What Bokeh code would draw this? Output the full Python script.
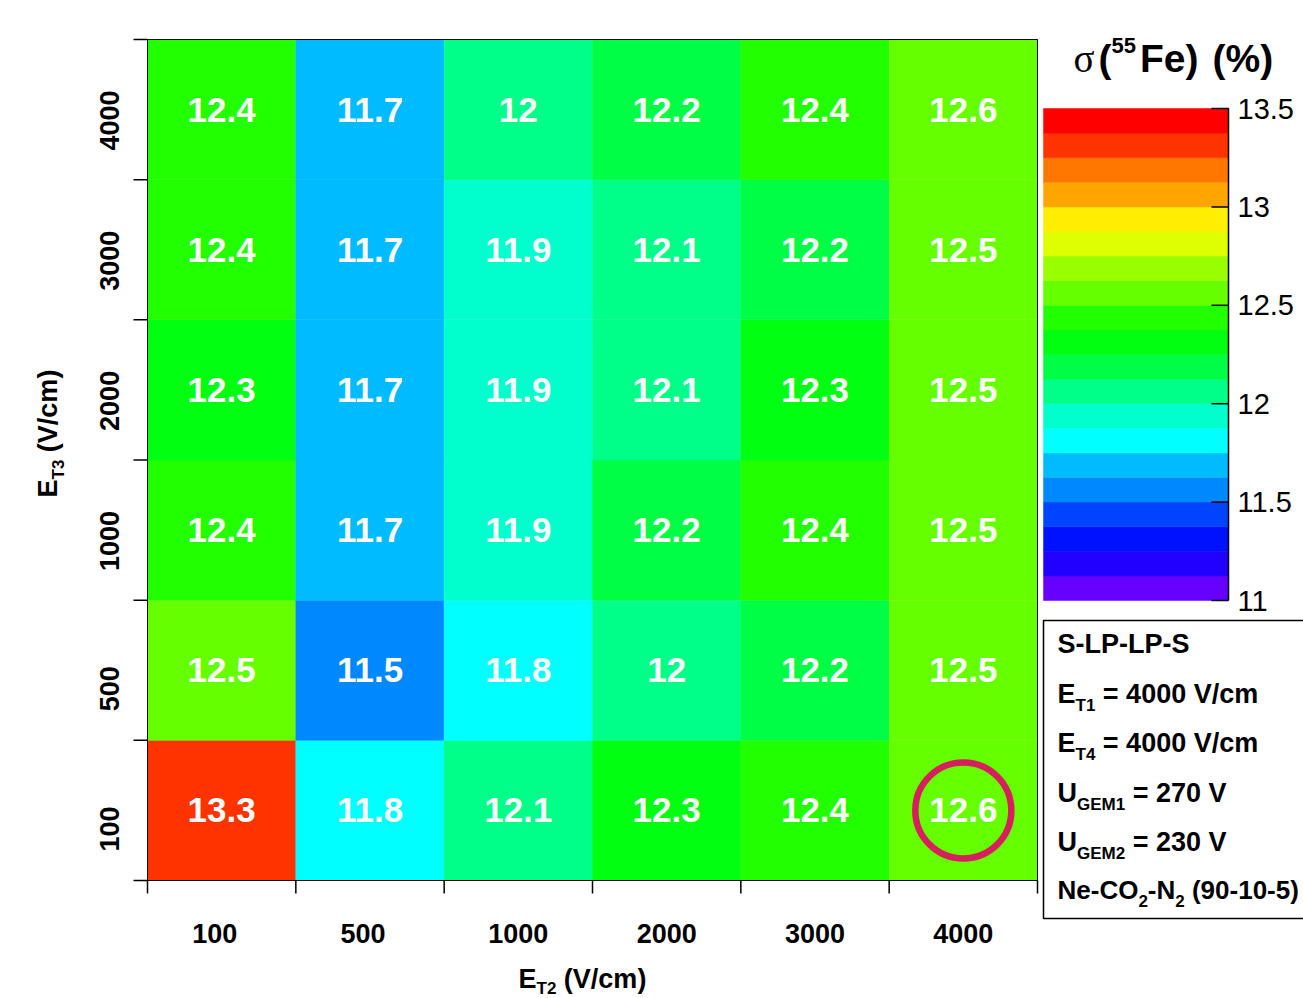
import math
import numpy as np
from bokeh.plotting import figure
from bokeh.models import Range1d
from bokeh.core.properties import value
from bokeh.embed import file_html
from bokeh.resources import INLINE

# ---------------- data ----------------
et2_labels = ["100", "500", "1000", "2000", "3000", "4000"]   # x categories (E_T2, V/cm)
et3_labels = ["100", "500", "1000", "2000", "3000", "4000"]   # y categories (E_T3, V/cm)
# energy resolution sigma(55Fe) in %, one list per E_T3 row, ordered by E_T2
sigma_et3_100 = [13.3, 11.8, 12.1, 12.3, 12.4, 12.6]
sigma_et3_500 = [12.5, 11.5, 11.8, 12.0, 12.2, 12.5]
sigma_et3_1000 = [12.4, 11.7, 11.9, 12.2, 12.4, 12.5]
sigma_et3_2000 = [12.3, 11.7, 11.9, 12.1, 12.3, 12.5]
sigma_et3_3000 = [12.4, 11.7, 11.9, 12.1, 12.2, 12.5]
sigma_et3_4000 = [12.4, 11.7, 12.0, 12.2, 12.4, 12.6]
z_min, z_max = 11.0, 13.5
z_ticks = [11, 11.5, 12, 12.5, 13, 13.5]
palette = ["#6600FF", "#2200FF", "#0011FF", "#0044FF", "#0088FF", "#00BBFF",
           "#00FFFF", "#00FFCC", "#00FF88", "#00FF44", "#00FF11", "#22FF00",
           "#66FF00", "#99FF00", "#DDFF00", "#FFEE00", "#FFA500", "#FF7700",
           "#FF3300", "#FF0000"]
highlight = ("4000", "100")  # (E_T2, E_T3) circled cell
legend_lines = [
    [("S-LP-LP-S", 0)],
    [("E", 0), ("T1", 1), (" = 4000 V/cm", 0)],
    [("E", 0), ("T4", 1), (" = 4000 V/cm", 0)],
    [("U", 0), ("GEM1", 1), (" = 270 V", 0)],
    [("U", 0), ("GEM2", 1), (" = 230 V", 0)],
    [("Ne-CO", 0), ("2", 1), ("-N", 0), ("2", 1), (" (90-10-5)", 0)],
]
x_title = [("E", 0), ("T2", 1), (" (V/cm)", 0)]
y_title = [("E", 0), ("T3", 1), (" (V/cm)", 0)]

rows = [sigma_et3_100, sigma_et3_500, sigma_et3_1000,
        sigma_et3_2000, sigma_et3_3000, sigma_et3_4000]

# ---------------- helpers ----------------
FONT = "Liberation Sans"
W = {' ': 278, '(': 333, ')': 333, '-': 333, '.': 278, '/': 278, '=': 584, '%': 889,
     'C': 722, 'E': 667, 'F': 611, 'G': 778, 'L': 611, 'M': 833, 'N': 722, 'O': 778,
     'P': 667, 'S': 667, 'T': 611, 'U': 722, 'V': 667, 'c': 556, 'e': 556, 'm': 889}


def tw(s, size):
    return sum(W.get(ch, 556) for ch in s) * size / 1000.0


def mid(base, size):
    # text is anchored at its middle: convert a wanted baseline to that anchor
    return base - 0.36 * size


def color_of(v):
    n = len(palette)
    k = int(math.floor((v - z_min) / (z_max - z_min) * n + 1e-9))
    return palette[max(0, min(n - 1, k))]


# ---------------- canvas / scales ----------------
WIDTH, HEIGHT = 1303, 998
FL, FR, FT, FB = 147, 1037, 39, 880          # heat-map frame in pixels
nx, ny = len(et2_labels), len(et3_labels)
ppx = (FR - FL) / nx
ppy = (FB - FT) / ny


def dx(px):
    return (px - FL) / ppx


def dy(py):
    return (FB - py) / ppy


p = figure(width=WIDTH, height=HEIGHT,
           x_range=Range1d(dx(0), dx(WIDTH)), y_range=Range1d(dy(HEIGHT), dy(0)),
           output_backend="svg", toolbar_location=None, min_border=0,
           x_axis_location=None, y_axis_location=None)
p.grid.visible = False
p.outline_line_color = None
p.background_fill_color = "white"
p.border_fill_color = "white"

# colour-scale range (pixel 108 <-> 13.5, pixel 600 <-> 11)
CB_L, CB_R, CB_T, CB_B = 1043, 1228, 108, 600
k = (CB_B - CB_T) / (z_max - z_min)
p.extra_x_ranges = {"sx": Range1d(0, WIDTH)}
p.extra_y_ranges = {"sy": Range1d(HEIGHT, 0),
                    "cb": Range1d(z_min - (HEIGHT - CB_B) / k, z_max + CB_T / k)}

# ---------------- heat map ----------------
lefts, bottoms, cols, xs, ys, txts = [], [], [], [], [], []
for j, vals in enumerate(rows):
    for i, v in enumerate(vals):
        lefts.append(i)
        bottoms.append(j)
        cols.append(color_of(v))
        xs.append(i + 0.5)
        ys.append(j + 0.5)
        txts.append(f"{v:g}")
p.quad(left=lefts, right=[l + 1 for l in lefts], bottom=bottoms, top=[b + 1 for b in bottoms],
       fill_color=cols, line_color=cols, line_width=0.5)
p.text(x=xs, y=ys, text=txts, text_color="white", text_font=value(FONT),
       text_font_style="bold", text_font_size="35px", text_align="center",
       text_baseline="middle")

hx = et2_labels.index(highlight[0]) + 0.5
hy = et3_labels.index(highlight[1]) + 0.5
p.scatter(x=[hx], y=[hy], marker="circle", size=96, fill_color=None,
          line_color="#D61F5C", line_width=6.5)

# frame
p.quad(left=0, right=nx, bottom=0, top=ny, fill_color=None, line_color="black",
       line_width=1)

# axis ticks at bin edges
xe = list(range(nx + 1))
ye = list(range(ny + 1))
p.segment(x0=xe, y0=0, x1=xe, y1=-13 / ppy, line_color="black", line_width=1.5)
p.segment(x0=0, y0=ye, x1=-14 / ppx, y1=ye, line_color="black", line_width=1.5)

# tick labels at bin centres (ROOT-like alignment)
xl = [i + 0.5 - (4 - len(l)) * 7 / ppx for i, l in enumerate(et2_labels)]
p.text(x=xl, y=dy(mid(943, 27)), text=et2_labels, text_font=value(FONT),
       text_font_style="bold", text_font_size="27px", text_color="black",
       text_align="center", text_baseline="middle")
yl = [j + 0.5 - 41 / ppy for j in range(ny)]
p.text(x=dx(mid(119, 27)), y=yl, text=et3_labels, angle=math.pi / 2,
       text_font=value(FONT), text_font_style="bold", text_font_size="27px",
       text_color="black", text_align="left", text_baseline="middle")


def chain_h(segs, x, base, main, sub, shift):
    for txt, s in segs:
        size = sub if s else main
        if txt.startswith(" "):
            x += tw(" ", size)
            txt = txt[1:]
        p.text(x=[x], y=[mid(base + shift * s, size)], text=[txt], text_font=value(FONT),
               text_font_style="bold", text_font_size=f"{size}px", text_color="black",
               text_align="left", text_baseline="middle",
               x_range_name="sx", y_range_name="sy")
        x += tw(txt, size)


# axis titles
chain_h(x_title, 518, 988, 27, 17, 6)
cy = 497
for txt, s in y_title:
    size = 17 if s else 27
    if txt.startswith(" "):
        cy -= tw(" ", size)
        txt = txt[1:]
    p.text(x=[mid(57 + 7 * s, size)], y=[cy], text=[txt], angle=math.pi / 2,
           text_font=value(FONT), text_font_style="bold", text_font_size=f"{size}px",
           text_color="black", text_align="left", text_baseline="middle",
           x_range_name="sx", y_range_name="sy")
    cy -= tw(txt, size)

# ---------------- colour scale ----------------
edges = np.linspace(z_min, z_max, len(palette) + 1)
p.quad(left=CB_L, right=CB_R, bottom=edges[:-1], top=edges[1:],
       fill_color=palette, line_color=palette, line_width=0.5,
       x_range_name="sx", y_range_name="cb")
p.segment(x0=CB_R, y0=z_min, x1=CB_R, y1=z_max, line_color="black", line_width=1.5,
          x_range_name="sx", y_range_name="cb")
p.segment(x0=CB_R - 17, y0=z_ticks, x1=CB_R, y1=z_ticks, line_color="black",
          line_width=1.5, x_range_name="sx", y_range_name="cb")
p.text(x=CB_R + 9, y=z_ticks, text=[f"{t:g}" for t in z_ticks], text_font=value(FONT),
       text_font_size="29px", text_color="black", text_align="left",
       text_baseline="middle", x_range_name="sx", y_range_name="cb")

# colour-scale title  sigma(55Fe) (%)
p.text(x=[1073], y=[mid(72, 39)], text=["σ"], text_font=value("Liberation Serif"),
       text_font_size="39px", text_color="black", text_baseline="middle",
       x_range_name="sx", y_range_name="sy")
tx = 1098
for txt, size, base, gap in [("(", 39, 72, 0), ("55", 22, 53, 0), ("Fe)", 39, 72, 4)]:
    tx += gap
    p.text(x=[tx], y=[mid(base, size)], text=[txt], text_font=value(FONT),
           text_font_style="bold", text_font_size=f"{size}px", text_color="black",
           text_baseline="middle", x_range_name="sx", y_range_name="sy")
    tx += tw(txt, size)
p.text(x=[1212], y=[mid(72, 39)], text=["(%)"], text_font=value(FONT),
       text_font_style="bold", text_font_size="39px", text_color="black",
       text_baseline="middle", x_range_name="sx", y_range_name="sy")

# ---------------- info box ----------------
p.quad(left=1043, right=WIDTH + 20, top=620, bottom=918, fill_color=None,
       line_color="black", line_width=1.5, x_range_name="sx", y_range_name="sy")
baselines = [653, 703, 752, 802, 851, 899]
for n, (segs, base) in enumerate(zip(legend_lines, baselines)):
    main = 26 if n == len(legend_lines) - 1 else 27
    chain_h(segs, 1057, base, main, 17, 8)

open("out.html", "w").write(file_html(p, INLINE))
